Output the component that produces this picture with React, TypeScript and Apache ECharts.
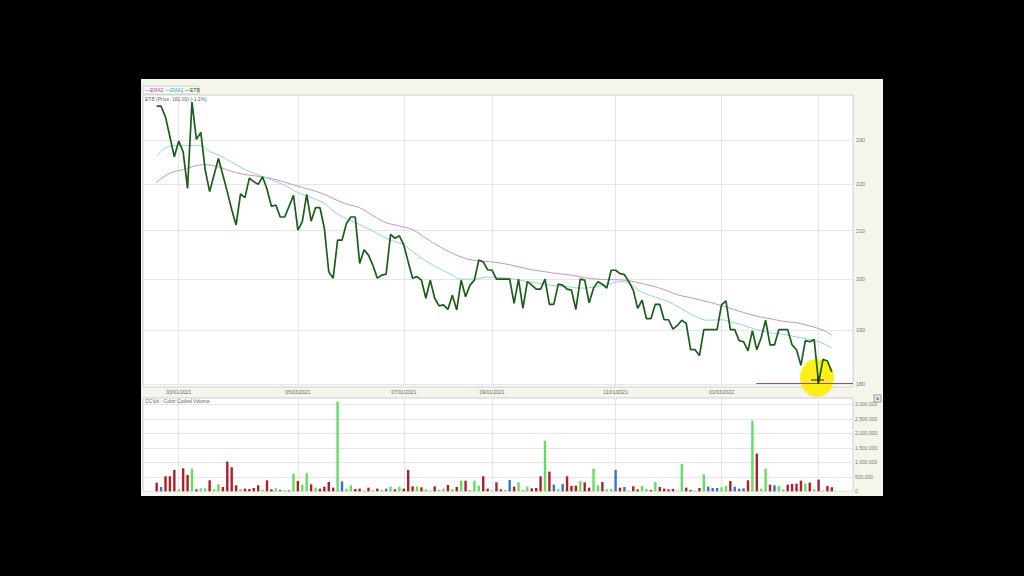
import React, { useEffect, useRef } from "react";
import * as echarts from "echarts";

// ETB closing prices (one value per trading session)
const prices = [
  238.0, 238.0, 235.4, 230.8, 226.2, 229.8, 227.3, 219.1, 239.0, 230.2,
  231.8, 223.2, 218.4, 222.1, 225.8, 222.1, 218.4, 214.5, 211.2, 217.9,
  217.1, 221.4, 220.6, 220.0, 221.7, 219.0, 215.2, 215.5, 212.9, 212.9,
  215.2, 217.6, 210.1, 211.9, 217.8, 212.0, 214.9, 214.9, 210.5, 201.5,
  200.2, 208.0, 208.0, 211.5, 212.9, 212.9, 203.2, 206.0, 204.9, 202.8,
  200.2, 200.8, 201.0, 209.2, 208.4, 208.9, 207.0, 203.5, 200.2, 200.5,
  199.8, 196.2, 199.8, 196.2, 194.7, 194.9, 194.0, 196.8, 193.9, 199.8,
  196.5, 198.8, 199.8, 203.9, 203.5, 201.9, 201.8, 200.0, 200.0, 200.0,
  200.0, 195.2, 200.0, 194.2, 199.5, 198.8, 198.0, 198.0, 200.0, 195.0,
  195.0, 199.0, 198.8, 198.0, 197.8, 194.0, 200.0, 199.8, 195.3, 198.2,
  199.5, 199.0, 198.2, 201.8, 201.8, 201.1, 200.9, 199.5, 197.8, 194.2,
  195.8, 192.2, 192.2, 195.0, 195.0, 192.0, 192.0, 190.2, 190.9, 191.9,
  191.3, 186.3, 186.3, 185.2, 190.1, 190.1, 190.1, 190.1, 194.9, 195.7,
  190.1, 190.1, 188.0, 187.8, 186.1, 189.9, 186.3, 188.6, 191.9, 187.2,
  187.2, 190.1, 190.1, 190.1, 187.2, 186.3, 183.4, 188.0, 187.8, 188.2,
  180.2, 184.5, 184.2, 182.2,
];

// EMA1 (cyan) read at session index -> value
const ema1 = [
  [0, 226.3], [2, 228.2], [5, 228.8], [8, 228.8], [10, 228.7], [12, 227.4], [14, 226.6],
  [17, 225.0], [20, 223.3], [23, 222.1], [26, 221.0], [29, 219.8], [32, 218.2], [35, 217.1],
  [38, 215.8], [40, 214.2], [43, 212.5], [46, 211.3], [49, 209.9], [52, 208.4], [54, 207.7],
  [56, 207.0], [58, 205.6], [61, 203.7], [64, 202.2], [67, 200.8], [69, 200.0], [72, 200.0],
  [75, 200.4], [78, 200.3], [81, 200.0], [84, 199.5], [87, 199.1], [90, 198.7], [93, 198.5],
  [96, 198.2], [99, 198.4], [102, 198.9], [105, 199.5], [107, 199.2], [110, 197.4], [113, 196.4],
  [116, 195.5], [119, 194.1], [122, 192.7], [125, 191.9], [128, 192.0], [130, 191.6], [133, 190.9],
  [136, 190.1], [139, 189.5], [142, 189.2], [145, 188.7], [148, 188.2], [151, 187.5], [153, 186.6],
];

// EMA2 (magenta) read at session index -> value
const ema2 = [
  [0, 220.5], [3, 222.5], [6, 223.3], [9, 224.2], [11, 224.4], [14, 223.9], [17, 222.9],
  [20, 222.2], [23, 221.8], [26, 221.3], [29, 220.5], [32, 219.6], [35, 218.8], [38, 217.8],
  [40, 216.9], [43, 215.7], [46, 214.9], [49, 213.2], [52, 211.7], [55, 211.0], [58, 210.2],
  [61, 208.4], [64, 206.7], [67, 205.3], [70, 204.2], [73, 203.7], [76, 203.5], [79, 203.1],
  [82, 202.5], [85, 201.9], [88, 201.5], [91, 201.1], [94, 200.8], [97, 200.3], [100, 200.0],
  [103, 199.9], [106, 199.8], [109, 199.3], [112, 198.7], [115, 197.9], [118, 196.9], [121, 196.3],
  [124, 195.7], [127, 195.0], [130, 194.2], [133, 193.4], [136, 192.7], [139, 192.2], [142, 191.7],
  [145, 191.4], [148, 190.8], [151, 190.0], [153, 189.1],
];

// Session volumes
const volumes = [
  299000, 149000, 517000, 517000, 736000, 70000, 793000, 563000, 782000, 69000,
  103000, 103000, 379000, 69000, 241000, 149000, 1023000, 828000, 207000, 80000,
  92000, 80000, 115000, 207000, 57000, 379000, 69000, 103000, 46000, 34000,
  34000, 609000, 356000, 230000, 621000, 241000, 126000, 92000, 161000, 322000,
  126000, 3092000, 345000, 92000, 207000, 80000, 92000, 23000, 126000, 34000,
  92000, 46000, 92000, 161000, 69000, 161000, 92000, 736000, 172000, 172000,
  138000, 69000, 23000, 172000, 46000, 92000, 218000, 80000, 149000, 368000,
  368000, 46000, 368000, 195000, 517000, 92000, 23000, 310000, 69000, 46000,
  391000, 161000, 310000, 46000, 161000, 103000, 115000, 517000, 1747000, 678000,
  230000, 80000, 253000, 517000, 184000, 195000, 345000, 310000, 126000, 782000,
  207000, 322000, 69000, 80000, 736000, 126000, 149000, 23000, 172000, 69000,
  184000, 80000, 46000, 322000, 149000, 92000, 69000, 80000, 23000, 943000,
  126000, 46000, 23000, 115000, 586000, 161000, 115000, 115000, 138000, 184000,
  356000, 161000, 92000, 103000, 379000, 2437000, 1299000, 92000, 782000, 230000,
  207000, 184000, 69000, 230000, 253000, 264000, 368000, 264000, 299000, 69000,
  402000, 23000, 184000, 138000,
];

// Volume colour code per session: r = down, g = up, b = unchanged
const volumeDir = (
  "rbrrrgrrgr" + "ggrggrrrrg" + "rrrrgrrgbg" + "bgrggrgrrr" + "rgbggrrgrg" +
  "rgbgrgrrrg" + "rggrggrgrg" + "rgggrrgrrg" + "brgggrrrgr" + "bgbrrrgrrg" +
  "grggbrbgrr" + "ggrgrrrrgg" + "rrgrgbbbgg" + "rbbbrgrggr" + "bggrrrrgrg" + "rgrr"
).split("");

const dateTickIdx = [5, 32, 56, 76, 104, 128, 150];
const dateTickLabels = ["03/01/2021", "05/03/2021", "07/01/2021", "09/01/2021", "11/01/2021", "01/03/2022", ""];
const priceTicks = [180, 190, 200, 210, 220, 230];
const volumeTicks = [0, 500000, 1000000, 1500000, 2000000, 2500000, 3000000];
const alertLevel = 180.1;

export default function App() {
  const ref = useRef<HTMLDivElement>(null);

  useEffect(() => {
    if (!ref.current) return;
    const chart = echarts.init(ref.current, null, { renderer: "svg" });
    const L = Math.log;
    const xMin = -3.1;
    const xMax = 157.8;
    const dirColor: Record<string, string> = { r: "#ad2029", g: "#62de62", b: "#3d6fd0" };
    const gridLine = { show: true, lineStyle: { color: "#e6e6e6", width: 1 } };
    const font = "Liberation Sans, Arial, sans-serif";

    const option: any = {
      animation: false,
      backgroundColor: "transparent",
      textStyle: { fontFamily: font },
      grid: [
        { left: 143, top: 95, width: 710, height: 292, show: true, backgroundColor: "#ffffff", borderColor: "#cfcfcf", borderWidth: 1 },
        { left: 143, top: 398, width: 710, height: 93.3, show: true, backgroundColor: "#ffffff", borderColor: "#cfcfcf", borderWidth: 1 },
      ],
      xAxis: [
        {
          gridIndex: 0, type: "value", min: xMin, max: xMax,
          axisLine: { show: false },
          axisTick: { show: false, customValues: dateTickIdx },
          axisLabel: {
            customValues: dateTickIdx.slice(0, 6), fontSize: 5, color: "#666", margin: 2,
            formatter: (v: number) => {
              const i = dateTickIdx.indexOf(Math.round(v));
              return i >= 0 ? dateTickLabels[i] : "";
            },
          },
          splitLine: gridLine,
        },
        {
          gridIndex: 1, type: "value", min: xMin, max: xMax,
          axisLine: { show: false },
          axisTick: { show: false, customValues: dateTickIdx },
          axisLabel: { show: false, customValues: dateTickIdx },
          splitLine: gridLine,
        },
      ],
      yAxis: [
        {
          gridIndex: 0, type: "value", position: "right",
          min: L(179.44), max: L(240.7),
          axisLine: { show: false },
          axisTick: { show: false, customValues: priceTicks.map(L) },
          axisLabel: {
            customValues: priceTicks.map(L), fontSize: 5.5, color: "#777", margin: 3,
            formatter: (v: number) => String(Math.round(Math.exp(v))),
          },
          splitLine: gridLine,
        },
        {
          gridIndex: 1, type: "value", position: "right", min: 0, max: 3217000,
          axisLine: { show: false },
          axisTick: { show: false, customValues: volumeTicks },
          axisLabel: {
            customValues: volumeTicks, fontSize: 5, color: "#777", margin: 2,
            formatter: (v: number) => Math.round(v).toLocaleString("en-US"),
          },
          splitLine: gridLine,
        },
      ],
      series: [
        {
          name: "EMA2", type: "line", xAxisIndex: 0, yAxisIndex: 0,
          data: ema2.map(([i, v]) => [i, L(v)]), smooth: 0.4, showSymbol: false,
          lineStyle: { color: "#c690c6", width: 1 }, z: 3,
        },
        {
          name: "EMA1", type: "line", xAxisIndex: 0, yAxisIndex: 0,
          data: ema1.map(([i, v]) => [i, L(v)]), smooth: 0.4, showSymbol: false,
          lineStyle: { color: "#92d2d8", width: 1 }, z: 3,
        },
        {
          name: "ETB", type: "line", xAxisIndex: 0, yAxisIndex: 0,
          data: prices.map((p, i) => [i, L(p)]), showSymbol: false,
          lineStyle: { color: "#195e19", width: 1.7 }, z: 5,
          markLine: {
            silent: true, symbol: "none", label: { show: false },
            lineStyle: { color: "#a0505a", width: 1, type: "solid" },
            data: [[{ coord: [135.9, L(alertLevel)] }, { coord: [xMax, L(alertLevel)] }]],
          },
        },
        {
          name: "CCVol", type: "bar", xAxisIndex: 1, yAxisIndex: 1, barWidth: 2.4,
          data: volumes.map((v, i) => ({ value: [i, v], itemStyle: { color: dirColor[volumeDir[i]] } })),
        },
      ],
      graphic: [
        { type: "rect", z: 1, shape: { x: 143, y: 86, width: 56, height: 8 }, style: { fill: "#f9f9f2", stroke: "#b9d6b9", lineWidth: 0.8 } },
        { type: "text", z: 2, x: 145, y: 90, style: { text: "—EMA2", fill: "#c83ac8", fontSize: 5, fontFamily: font, verticalAlign: "middle" } },
        { type: "text", z: 2, x: 165, y: 90, style: { text: "—EMA1", fill: "#34b4c4", fontSize: 5, fontFamily: font, verticalAlign: "middle" } },
        { type: "text", z: 2, x: 185, y: 90, style: { text: "—ETB", fill: "#1c651c", fontSize: 5, fontFamily: font, verticalAlign: "middle" } },
        { type: "text", z: 2, x: 145, y: 99, style: { text: "ETB (Price, 182.00) (-1.1%)", fill: "#666", fontSize: 5, fontFamily: font, verticalAlign: "middle" } },
        { type: "text", z: 2, x: 145, y: 401, style: { text: "CCVol - Color Coded Volume", fill: "#666", fontSize: 5, fontFamily: font, verticalAlign: "middle" } },
        { type: "rect", z: 2, shape: { x: 874, y: 395, width: 7, height: 7 }, style: { fill: "#eee", stroke: "#888", lineWidth: 0.8 } },
        { type: "text", z: 3, x: 877.5, y: 398.5, style: { text: "×", fill: "#444", fontSize: 7, fontFamily: font, align: "center", verticalAlign: "middle" } },
        { type: "ellipse", z: 1, shape: { cx: 817, cy: 378, rx: 17, ry: 19 }, style: { fill: "rgba(255,236,0,0.9)" } },
        { type: "line", z: 6, shape: { x1: 811, y1: 380, x2: 824, y2: 380 }, style: { stroke: "#222", lineWidth: 1 } },
        { type: "line", z: 6, shape: { x1: 818, y1: 376, x2: 818, y2: 384 }, style: { stroke: "#222", lineWidth: 1 } },
      ],
    };
    chart.setOption(option);
    return () => chart.dispose();
  }, []);

  return (
    <div style={{ position: "fixed", left: 0, top: 0, width: 1024, height: 576, background: "#000" }}>
      <div style={{ position: "absolute", left: 141, top: 79, width: 742, height: 417, background: "#f6f5ec" }} />
      <div ref={ref} style={{ position: "absolute", left: 0, top: 0, width: 1024, height: 576 }} />
    </div>
  );
}
